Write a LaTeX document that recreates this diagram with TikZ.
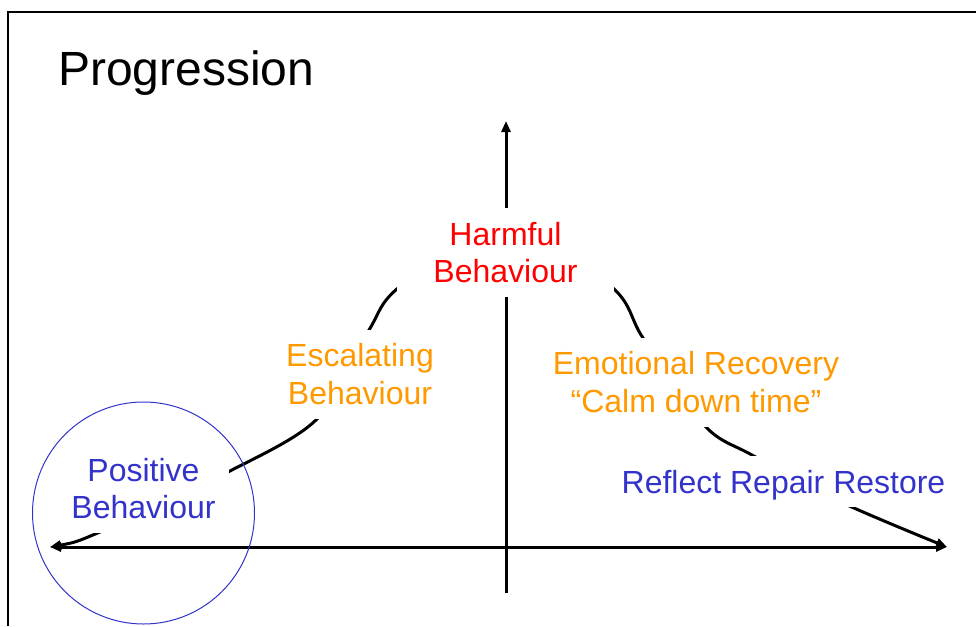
\documentclass[tikz,border=0pt]{standalone}
\usepackage{fontspec}
\setmainfont{Liberation Sans}
\usetikzlibrary{arrows.meta, positioning}
\definecolor{harmred}{RGB}{255, 0, 0}
\definecolor{calmorange}{RGB}{255, 153, 0}
\definecolor{goodblue}{RGB}{51, 51, 204}

\tikzset{
    stage/.style={fill=white, align=center, inner xsep=13pt, inner ysep=14pt,
        font=\fontsize{32}{37.5}\selectfont},
    tip/.style={line width=3pt, line join=round},
}

\begin{document}
\begin{tikzpicture}[x=1pt, y=-1pt]
    \useasboundingbox (0,0) rectangle (976,626);

    % Frame
    \draw[line width=2pt] (8,626) -- (8,12) -- (976,12);

    % Title
    \node[anchor=base west, inner sep=0pt, font=\fontsize{48}{56}\selectfont] (title) at (58,85) {Progression};

    % Axes
    \coordinate (xleft) at (50,547);
    \coordinate (xright) at (947,547);
    \coordinate (ybottom) at (506,593);
    \coordinate (ytop) at (506,121);
    \draw[tip, {Triangle[length=11pt,width=9pt]}-{Triangle[length=11pt,width=9pt]}] (xleft) -- (xright);
    \draw[tip, -{Triangle[length=11pt,width=9pt]}] (ybottom) -- (ytop);

    % Behaviour curve
    \draw[tip, {Triangle[length=11pt,width=9pt]}-{Triangle[length=11pt,width=9pt]}]
        plot[smooth, tension=0.5] coordinates {(xleft) (100,532) (228,472) (317,419) (369,330) (398,288)
        (506,212) (613,288) (643,338) (705,426) (752,455) (843,503) (xright)};

    % Stages
    \node[stage, text=harmred, inner xsep=36pt] (harmful) at (505.5,252.5) {Harmful\\Behaviour};
    \node[stage, text=calmorange] (escalating) at (360,374) {Escalating\\Behaviour};
    \node[stage, text=calmorange] (recovery) at (696,382) {Emotional Recovery\\“Calm down time”};
    \node[stage, text=goodblue] (positive) at (143.5,488.5) {Positive\\Behaviour};
    \node[stage, text=goodblue, anchor=base, text depth=0pt] (reflect) at (783.5,493) {Reflect Repair Restore};

    % Circle round the start
    \draw[goodblue, line width=1pt] (143.5,513) circle[radius=111pt];
\end{tikzpicture}
\end{document}
